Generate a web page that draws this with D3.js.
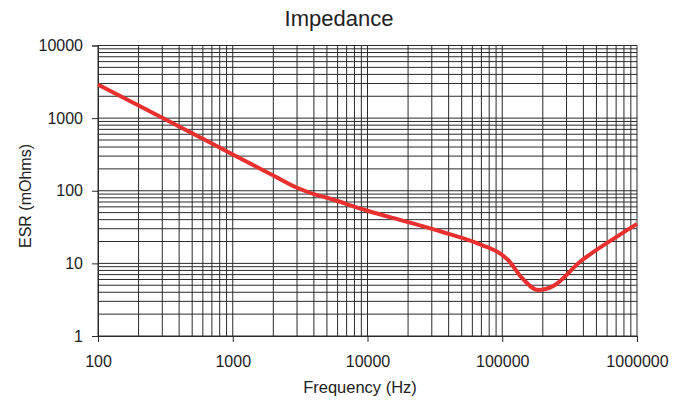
<!DOCTYPE html>
<html>
<head>
    <meta http-equiv="Content-Type" content="text/html;charset=utf8" />
    <title>Impedance</title>
    <script src="https://d3js.org/d3.v7.min.js"></script>
    <style>
        body { margin: 0; background: #fff; font-family: "Liberation Sans", Arial, sans-serif; }
    </style>
</head>
<body>
<div id="chart"></div>
<script>
    // values
    var freq = [100, 200, 500, 1000, 2000, 3000, 4000, 5000, 10000, 20000, 35000, 70000, 100000, 110000, 140000, 185000, 240000, 380000, 433000, 700000, 1000000];
    var esr  = [2900, 1490, 620, 315, 162, 110, 90, 80, 53, 37, 27.5, 18, 13, 11.2, 6.3, 4.3, 4.9, 10.6, 12.7, 23, 35];
    var xTicks = [100, 1000, 10000, 100000, 1000000];
    var yTicks = [1, 10, 100, 1000, 10000];

    var W = 682, H = 400;
    var m = {top: 45.5, right: 45, bottom: 64, left: 98};

    var svg = d3.select("#chart").append("svg").attr("width", W).attr("height", H);

    var x = d3.scaleLog().domain([100, 1e6]).range([m.left, W - m.right]);
    var y = d3.scaleLog().domain([1, 1e4]).range([H - m.bottom, m.top]);

    // grid: every 1..9 inside each decade
    var gx = [], gy = [];
    for (var d = 100; d < 1e6; d *= 10) for (var k = 1; k < 10; k++) gx.push(d * k);
    gx.push(1e6);
    for (var e = 1; e < 1e4; e *= 10) for (var k2 = 1; k2 < 10; k2++) gy.push(e * k2);
    gy.push(1e4);

    var grid = svg.append("g").attr("stroke", "#2a2a2a").attr("stroke-width", 1);
    grid.selectAll("line.v").data(gx).enter().append("line").attr("class", "v")
        .attr("x1", function(d) { return x(d); }).attr("x2", function(d) { return x(d); })
        .attr("y1", y(1)).attr("y2", y(1e4));
    grid.selectAll("line.h").data(gy).enter().append("line").attr("class", "h")
        .attr("y1", function(d) { return y(d); }).attr("y2", function(d) { return y(d); })
        .attr("x1", x(100)).attr("x2", x(1e6));

    // axes with outward ticks at decades
    var xAxis = d3.axisBottom(x).tickValues(xTicks).tickFormat(d3.format("d")).tickSize(6).tickPadding(14);
    var yAxis = d3.axisLeft(y).tickValues(yTicks).tickFormat(d3.format("d")).tickSize(6).tickPadding(9);

    var gX = svg.append("g").attr("transform", "translate(0," + y(1) + ")").call(xAxis);
    var gY = svg.append("g").attr("transform", "translate(" + x(100) + ",0)").call(yAxis);
    [gX, gY].forEach(function(g) {
        g.select(".domain").attr("stroke", "#2a2a2a");
        g.selectAll(".tick line").attr("stroke", "#2a2a2a");
        g.selectAll("text").attr("fill", "#222").style("font-size", "16px")
            .style("font-family", "'Liberation Sans', Arial, sans-serif");
    });

    // the curve
    var line = d3.line()
        .x(function(d) { return x(d[0]); })
        .y(function(d) { return y(d[1]); })
        .curve(d3.curveMonotoneX);
    svg.append("path").datum(d3.zip(freq, esr))
        .attr("d", line)
        .attr("fill", "none")
        .attr("stroke", "#e8312f")
        .attr("stroke-width", 4)
        .attr("stroke-linejoin", "round");

    // titles
    svg.append("text").attr("x", 339).attr("y", 26).attr("text-anchor", "middle")
        .attr("fill", "#222").style("font-size", "22px").text("Impedance");
    svg.append("text").attr("x", 360).attr("y", 393).attr("text-anchor", "middle")
        .attr("fill", "#222").style("font-size", "16.5px").text("Frequency (Hz)");
    svg.append("text").attr("transform", "translate(31," + 196 + ") rotate(-90)")
        .attr("text-anchor", "middle").attr("fill", "#222").style("font-size", "16px").text("ESR (mOhms)");
</script>
</body>
</html>
